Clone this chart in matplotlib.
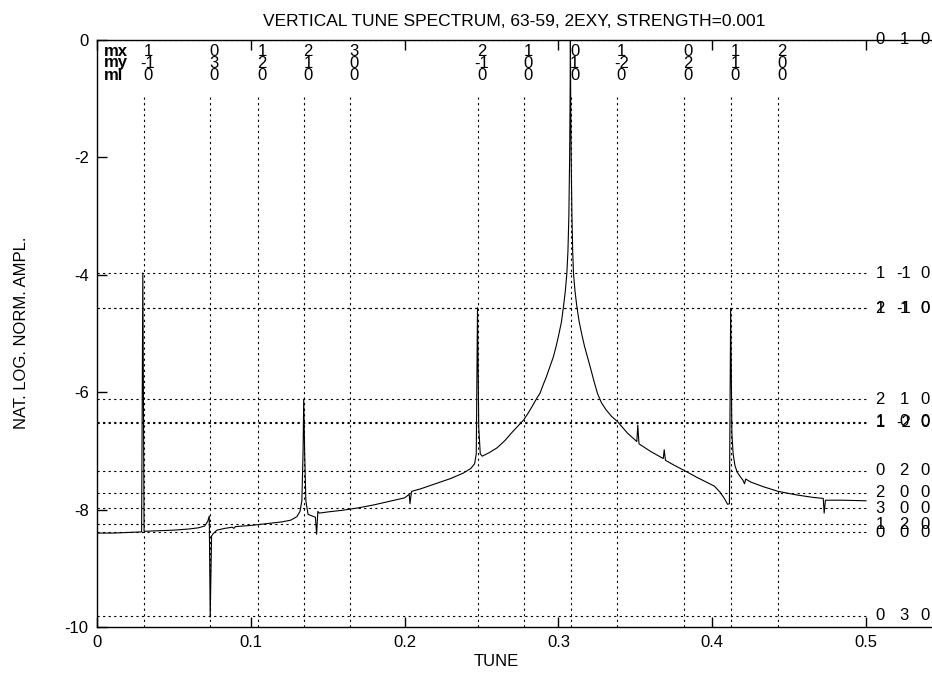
import matplotlib
matplotlib.use('Agg')
import matplotlib.pyplot as plt

plt.rcParams['font.family'] = ['Liberation Sans', 'DejaVu Sans']
plt.rcParams['axes.unicode_minus'] = False

title = "VERTICAL TUNE SPECTRUM, 63-59, 2EXY, STRENGTH=0.001"
x_label = "TUNE"
y_label = "NAT. LOG. NORM. AMPL."
x_ticks = [0.0, 0.1, 0.2, 0.3, 0.4, 0.5]
x_tick_labels = ["0", "0.1", "0.2", "0.3", "0.4", "0.5"]
y_ticks = [0, -2, -4, -6, -8, -10]
y_tick_labels = ["0", "-2", "-4", "-6", "-8", "-10"]

# spectrum
tune = [0.000, 0.010, 0.020, 0.0290, 0.0298, 0.0306, 0.040, 0.050, 0.060, 0.066,
        0.070, 0.0720, 0.0730, 0.0736, 0.0745, 0.0755, 0.078, 0.083, 0.088, 0.0890,
        0.0900, 0.100, 0.110, 0.120, 0.126, 0.1300, 0.1320, 0.1332, 0.1340, 0.1344,
        0.1350, 0.1358, 0.1372, 0.139, 0.1420, 0.1428, 0.1436, 0.1445, 0.150, 0.160,
        0.170, 0.180, 0.190, 0.200, 0.2030, 0.2035, 0.2045, 0.210, 0.220, 0.230,
        0.238, 0.243, 0.2455, 0.2466, 0.2474, 0.2482, 0.2492, 0.2505, 0.255, 0.260,
        0.265, 0.270, 0.2775, 0.280, 0.283, 0.286, 0.288, 0.290, 0.292, 0.294,
        0.2967, 0.2985, 0.300, 0.302, 0.3033, 0.3045, 0.3055, 0.3062, 0.3068, 0.3073,
        0.3076, 0.3078, 0.3080, 0.3083, 0.3088, 0.3093, 0.3098, 0.3108, 0.3120, 0.3135,
        0.3155, 0.3170, 0.3189, 0.321, 0.323, 0.3254, 0.328, 0.331, 0.3345, 0.3384,
        0.345, 0.3510, 0.3516, 0.3524, 0.360, 0.3682, 0.3688, 0.3696, 0.375,
        0.383, 0.390, 0.3960, 0.4014, 0.405, 0.4079, 0.4100, 0.4112, 0.4120, 0.4128,
        0.4136, 0.4148, 0.4162, 0.418, 0.4200, 0.4210, 0.4218, 0.425, 0.4332, 0.443,
        0.4549, 0.465, 0.4722, 0.4728, 0.4736, 0.485, 0.500]
ampl = [-8.40, -8.40, -8.39, -8.38, -3.97, -8.37, -8.36, -8.35, -8.33, -8.31,
        -8.28, -8.20, -8.11, -9.83, -8.45, -8.41, -8.35, -8.32, -8.30, -8.32,
        -8.29, -8.27, -8.24, -8.21, -8.18, -8.12, -8.03, -7.85, -7.0, -6.12,
        -7.0, -7.85, -8.08, -8.10, -8.13, -8.42, -8.03, -8.06, -8.04, -8.01,
        -7.97, -7.92, -7.86, -7.80, -7.74, -7.90, -7.69, -7.65, -7.56, -7.47,
        -7.38, -7.30, -7.22, -7.05, -4.56, -6.60, -7.05, -7.09, -7.03, -6.95,
        -6.83, -6.68, -6.47, -6.37, -6.24, -6.10, -6.02, -5.88, -5.75, -5.60,
        -5.40, -5.22, -5.05, -4.80, -4.54, -4.28, -3.97, -3.60, -3.00, -2.00,
        -1.00, 0.00, -1.00, -2.00, -3.00, -3.60, -3.97, -4.28, -4.54, -4.80,
        -5.05, -5.22, -5.40, -5.60, -5.80, -6.02, -6.18, -6.30, -6.41, -6.50,
        -6.70, -6.84, -6.56, -6.88, -7.01, -7.13, -6.98, -7.16, -7.24,
        -7.35, -7.45, -7.53, -7.60, -7.70, -7.81, -7.91, -7.90, -4.57, -6.70,
        -7.05, -7.25, -7.36, -7.43, -7.50, -7.56, -7.48, -7.53, -7.61, -7.69,
        -7.75, -7.79, -7.81, -8.06, -7.84, -7.84, -7.85]

# resonance lines (vertical) with their labels
res_tune = [0.0306, 0.0735, 0.1047, 0.1346, 0.1645, 0.2475, 0.2778, 0.3080,
            0.3383, 0.3818, 0.4122, 0.4426]
res_mx = [1, 0, 1, 2, 3, 2, 1, 0, 1, 0, 1, 2]
res_my = [-1, 3, 2, 1, 0, -1, 0, 1, -2, 2, 1, 0]
res_ml = [0, 0, 0, 0, 0, 0, 0, 0, 0, 0, 0, 0]

# amplitude levels (horizontal) with their labels
lvl_value = [0.0, -3.97, -4.57, -4.57, -6.12, -6.50, -6.52, -7.34, -7.71,
             -7.98, -8.25, -8.39, -9.81]
lvl_mx = [0, 1, 2, 1, 2, 1, 1, 0, 2, 3, 1, 0, 0]
lvl_my = [1, -1, -1, 1, 1, 0, -2, 2, 0, 0, 2, 0, 3]
lvl_ml = [0, 0, 0, 0, 0, 0, 0, 0, 0, 0, 0, 0, 0]

W, H = 932, 673
fig = plt.figure(figsize=(W / 100, H / 100), dpi=100)
ax_l, ax_r, ax_t, ax_b = 97, 932, 40, 627
ax = fig.add_axes([ax_l / W, 1 - ax_b / H, (ax_r - ax_l) / W, (ax_b - ax_t) / H])
x0_px, x05_px = 97, 866
xmax = 0.5 * (ax_r - x0_px) / (x05_px - x0_px)
ax.set_xlim(0, xmax)
ax.set_ylim(-10, 0)

FS = 12
dot = (0, (2, 3))
for t in res_tune:
    ax.plot([t, t], [-10, -0.97], ls=dot, lw=0.8, color='black')
for v in lvl_value:
    ax.plot([0, 0.5], [v, v], ls=dot, lw=0.8, color='black')

ax.plot(tune, ampl, color='black', lw=0.8)

ax.set_xticks(x_ticks)
ax.set_xticklabels(x_tick_labels)
ax.set_yticks(y_ticks)
ax.set_yticklabels(y_tick_labels)
ax.tick_params(direction='in', length=7, width=1, top=True, right=False,
               labelsize=FS, pad=6, colors='black')
ax.spines['right'].set_visible(False)
for s in ['left', 'top', 'bottom']:
    ax.spines[s].set_linewidth(1.0)

def ypx(px):
    return -(px - ax_t) / ((ax_b - ax_t) / 10.0)

def xpx(px):
    return (px - x0_px) / ((x05_px - x0_px) / 0.5)

rows = [ypx(52), ypx(63), ypx(75)]
for name, yy in zip(["mx", "my", "ml"], rows):
    ax.text(xpx(104), yy, name, fontsize=FS, fontweight='bold', ha='left', va='center')
for t, a, b, c in zip(res_tune, res_mx, res_my, res_ml):
    for val, yy in zip([a, b, c], rows):
        ax.annotate(str(val), xy=(t, yy), xytext=(4, 0), textcoords='offset pixels',
                    ha='center', va='center', fontsize=FS)

cols = [xpx(880), xpx(904), xpx(925)]
for v, a, b, c in zip(lvl_value, lvl_mx, lvl_my, lvl_ml):
    for val, xx in zip([a, b, c], cols):
        ax.text(xx, v, str(val), ha='center', va='center', fontsize=FS, clip_on=False)

ax.set_title(title, fontsize=12.5, pad=10)
fig.text(496 / W, 1 - 662 / H, x_label, ha='center', va='center', fontsize=FS)
fig.text(22 / W, 1 - 333 / H, y_label, ha='center', va='center', rotation=90, fontsize=FS)

fig.savefig('out.png', dpi=100)
